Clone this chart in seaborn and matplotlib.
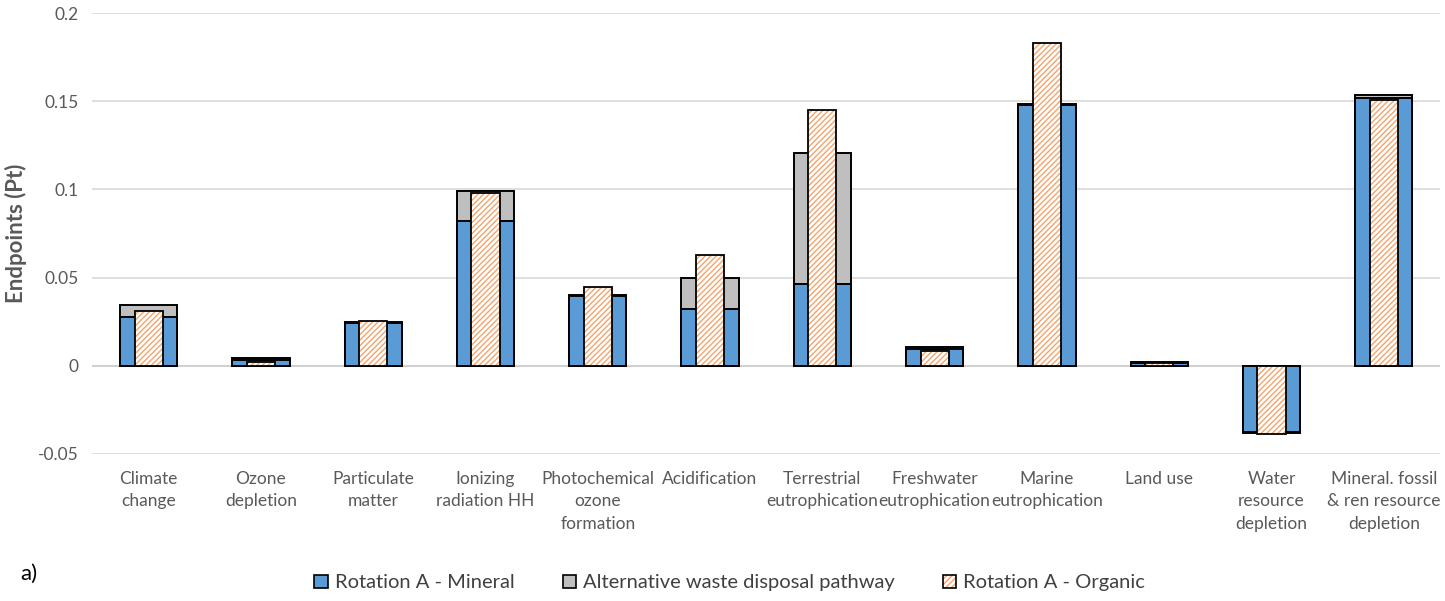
import pandas as pd
import matplotlib
matplotlib.use("Agg")
import matplotlib.pyplot as plt
import seaborn as sns
from matplotlib.patches import Patch

# Werte
categories = ["Climate\nchange", "Ozone\ndepletion", "Particulate\nmatter",
              "Ionizing\nradiation HH", "Photochemical\nozone\nformation",
              "Acidification", "Terrestrial\neutrophication",
              "Freshwater\neutrophication", "Marine\neutrophication",
              "Land use", "Water\nresource\ndepletion",
              "Mineral. fossil\n& ren resource\ndepletion"]
mineral = [0.0278, 0.0034, 0.0243, 0.0822, 0.0393, 0.0323, 0.0465,
           0.0098, 0.1478, 0.0017, -0.0375, 0.1518]
alternative = [0.0068, 0.0010, 0.0007, 0.0170, 0.0007, 0.0176, 0.0742,
               0.0008, 0.0008, 0.0007, -0.0008, 0.0017]
organic = [0.0310, 0.0022, 0.0255, 0.0980, 0.0445, 0.0630, 0.1450,
           0.0085, 0.1830, 0.0015, -0.0385, 0.1507]

df = pd.DataFrame({"category": categories, "mineral": mineral,
                   "alternative": alternative, "organic": organic})
df["total"] = df["mineral"] + df["alternative"]

sns.set_style("white")
plt.rcParams["font.family"] = ["Lato", "DejaVu Sans"]
plt.rcParams["hatch.linewidth"] = 1.0

blue = "#5B9BD5"
grey = "#BFBFBF"
orange = "#F4A46C"

fig = plt.figure(figsize=(14.45, 6.01), dpi=100)
ax = fig.add_axes([0.064, 0.2446, 0.9325, 0.7337])

# gestapelt: erst Summe (grau), dann Mineral (blau) darüber
sns.barplot(data=df, x="category", y="total", color=grey, saturation=1,
            width=0.51, edgecolor="black", linewidth=1.4, ax=ax, zorder=2)
sns.barplot(data=df, x="category", y="mineral", color=blue, saturation=1,
            width=0.51, edgecolor="black", linewidth=1.4, ax=ax, zorder=3)
# Organic: schraffiert, orange Linien + schwarzer Rand
sns.barplot(data=df, x="category", y="organic", color="white", saturation=1,
            width=0.25, edgecolor=orange, linewidth=0, hatch="//////",
            ax=ax, zorder=4)
sns.barplot(data=df, x="category", y="organic", fill=False,
            width=0.25, edgecolor="black", linewidth=1.3, ax=ax, zorder=5)

ax.set_ylim(-0.05, 0.2)
ax.set_xlim(-0.5, len(categories) - 0.5)
ax.set_yticks([-0.05, 0, 0.05, 0.1, 0.15, 0.2])
ax.set_yticklabels(["-0.05", "0", "0.05", "0.1", "0.15", "0.2"])
ax.yaxis.grid(True, color="#D9D9D9", linewidth=1.2, zorder=0)
ax.set_axisbelow(True)
ax.axhline(0, color="#D0D0D0", linewidth=1.4, zorder=1)
for s in ax.spines.values():
    s.set_visible(False)
ax.set_xticks(range(len(categories)))
ax.set_xticklabels(categories, linespacing=1.5)
ax.tick_params(axis="both", length=0, colors="#595959")
ax.tick_params(axis="y", labelsize=12.5, pad=10)
ax.tick_params(axis="x", labelsize=12.5, pad=12)
ax.set_xlabel("")
ax.set_ylabel("Endpoints (Pt)", fontsize=16, fontweight="bold",
              color="#595959", labelpad=8)

# Legende: Organic-Symbol = orange Schraffur mit schwarzem Rand
org_hatch = Patch(facecolor="white", edgecolor=orange, hatch="//////", linewidth=0)
org_edge = Patch(fill=False, edgecolor="black", linewidth=1.2)
handles = [Patch(facecolor=blue, edgecolor="black", linewidth=1.2),
           Patch(facecolor=grey, edgecolor="black", linewidth=1.2),
           (org_hatch, org_edge)]
labels = ["Rotation A - Mineral", "Alternative waste disposal pathway",
          "Rotation A - Organic"]
leg = fig.legend(handles, labels, loc="center", bbox_to_anchor=(0.505, 0.03),
                 ncol=3, frameon=False, fontsize=14.5, handlelength=0.65,
                 handleheight=0.65, columnspacing=2.4, handletextpad=0.35)
for t in leg.get_texts():
    t.set_color("#404040")

fig.text(0.014, 0.035, "a)", fontsize=16, color="black")

fig.savefig("out.png", dpi=100)
